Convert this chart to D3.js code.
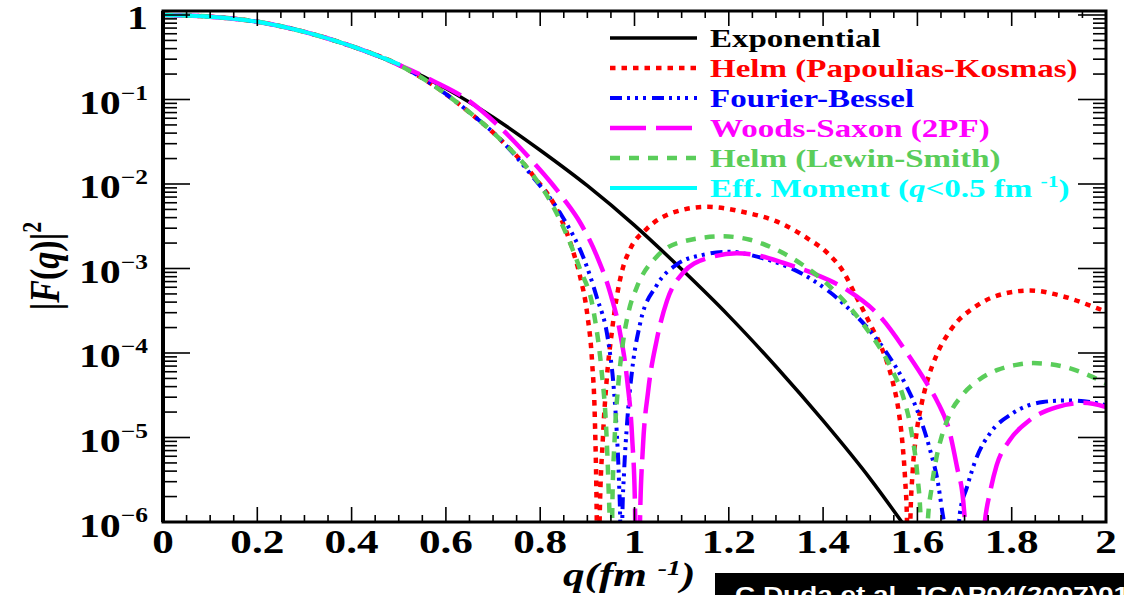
<!DOCTYPE html>
<html>
<head>
<meta charset="utf-8">
<script src="https://cdn.jsdelivr.net/npm/d3@7"></script>
<style>
  body { margin: 0; background: #fff; }
  svg { display: block; }
</style>
</head>
<body>
<script>
// |F(q)|^2 curves, as [q, F^2] pairs
const exponential = [[0,1],[0.1,0.955],[0.2,0.832],[0.3,0.631],[0.4,0.427],[0.5,0.257],[0.6,0.135],
  [0.7,0.0617],[0.8,0.0251],[0.9,9.55e-3],[1.0,3.24e-3],[1.1,9.77e-4],[1.2,2.75e-4],[1.3,6.92e-5],
  [1.4,1.58e-5],[1.5,3.24e-6],[1.567,1.0e-6]];

const helmPK = [[0,1],[0.1,0.955],[0.2,0.832],[0.3,0.631],[0.4,0.427],[0.5,0.257],[0.573,0.148],
  [0.645,0.0741],[0.715,0.0339],[0.785,0.0126],[0.842,4.17e-3],[0.87,1.58e-3],[0.884,8.32e-4],
  [0.9,2.82e-4],[0.91,7.94e-5],[0.916,1.58e-5],[0.92,1.0e-6],[0.923,1e-8],[0.926,1.0e-6],
  [0.933,1.0e-5],[0.941,4.79e-5],[0.952,1.78e-4],[0.962,4.47e-4],[0.975,1.0e-3],[0.99,1.66e-3],
  [1.026,2.95e-3],[1.076,4.47e-3],[1.153,5.37e-3],[1.238,4.57e-3],[1.3,3.63e-3],[1.366,2.29e-3],
  [1.41,1.51e-3],[1.442,9.33e-4],[1.47,4.68e-4],[1.5,2.19e-4],[1.527,1.05e-4],[1.548,4.47e-5],
  [1.56,2.09e-5],[1.568,8.91e-6],[1.574,3.16e-6],[1.578,1.0e-6],[1.581,1e-8],[1.585,1.0e-6],
  [1.59,3.98e-6],[1.598,1.12e-5],[1.609,2.51e-5],[1.62,4.47e-5],[1.641,9.55e-5],[1.669,1.82e-4],
  [1.726,3.63e-4],[1.782,5.01e-4],[1.839,5.5e-4],[1.909,4.68e-4],[1.981,3.39e-4],[2.0,3.09e-4]];

const fourierBessel = [[0,1],[0.1,0.955],[0.2,0.832],[0.3,0.631],[0.4,0.427],[0.5,0.257],[0.573,0.148],
  [0.645,0.0741],[0.715,0.0339],[0.785,0.012],[0.842,4.57e-3],[0.899,1.05e-3],[0.92,4.57e-4],
  [0.944,1.41e-4],[0.955,4.47e-5],[0.962,1.26e-5],[0.967,3.16e-6],[0.97,7.94e-7],[0.972,1e-8],
  [0.974,1.0e-6],[0.978,3.98e-6],[0.984,1.41e-5],[0.995,6.31e-5],[1.012,2.24e-4],[1.047,6.31e-4],
  [1.09,1.12e-3],[1.145,1.45e-3],[1.2,1.58e-3],[1.26,1.38e-3],[1.379,7.24e-4],[1.442,3.89e-4],
  [1.535,1.0e-4],[1.57,4.79e-5],[1.599,2.14e-5],[1.627,7.08e-6],[1.644,2.82e-6],[1.652,1.41e-6],
  [1.658,7.94e-7],[1.672,1e-8],[1.69,1.26e-6],[1.705,2.57e-6],[1.726,5.89e-6],[1.754,1.12e-5],
  [1.803,1.95e-5],[1.866,2.63e-5],[1.917,2.75e-5],[1.966,2.63e-5],[2.0,2.40e-5]];

const woodsSaxon = [[0,1],[0.1,0.955],[0.2,0.832],[0.3,0.631],[0.4,0.427],[0.5,0.257],[0.573,0.166],
  [0.645,0.1],[0.715,0.0468],[0.785,0.0182],[0.821,0.0107],[0.849,6.76e-3],[0.884,3.55e-3],
  [0.92,1.41e-3],[0.948,5.25e-4],[0.969,1.78e-4],[0.984,5.01e-5],[0.995,1.0e-5],[1.001,1.58e-6],
  [1.006,1e-8],[1.012,1.26e-6],[1.018,7.94e-6],[1.029,3.55e-5],[1.047,1.41e-4],[1.069,4.17e-4],
  [1.103,8.91e-4],[1.154,1.32e-3],[1.217,1.51e-3],[1.266,1.41e-3],[1.315,1.17e-3],[1.38,8.71e-4],
  [1.45,5.62e-4],[1.521,2.69e-4],[1.578,1.0e-4],[1.62,4.37e-5],[1.641,2.75e-5],[1.669,1.12e-5],
  [1.684,4.47e-6],[1.697,1.82e-6],[1.701,1.0e-6],[1.722,1e-8],[1.743,1.0e-6],[1.754,2.24e-6],
  [1.768,4.68e-6],[1.796,9.33e-6],[1.839,1.62e-5],[1.896,2.29e-5],[1.951,2.57e-5],[2.0,2.29e-5]];

const helmLS = [[0,1],[0.1,0.955],[0.2,0.832],[0.3,0.631],[0.4,0.427],[0.5,0.257],[0.573,0.148],
  [0.645,0.0741],[0.715,0.0339],[0.785,0.0126],[0.821,6.31e-3],[0.856,2.51e-3],[0.884,1.0e-3],
  [0.913,3.16e-4],[0.93,6.31e-5],[0.94,1.26e-5],[0.945,2.51e-6],[0.948,6.31e-7],[0.95,1e-8],
  [0.953,1.58e-6],[0.958,1.0e-5],[0.966,4.47e-5],[0.975,1.26e-4],[0.988,3.16e-4],[1.005,6.03e-4],
  [1.047,1.38e-3],[1.096,2.04e-3],[1.188,2.40e-3],[1.245,2.19e-3],[1.302,1.66e-3],[1.357,1.10e-3],
  [1.408,6.61e-4],[1.442,4.27e-4],[1.485,2.19e-4],[1.527,1.0e-4],[1.548,6.03e-5],[1.57,3.02e-5],
  [1.588,1.12e-5],[1.6,3.55e-6],[1.607,1.0e-6],[1.613,1e-8],[1.622,1.0e-6],[1.63,2.51e-6],
  [1.64,5.62e-6],[1.652,1.05e-5],[1.669,1.91e-5],[1.695,3.16e-5],[1.73,4.79e-5],[1.77,6.31e-5],
  [1.81,7.24e-5],[1.845,7.59e-5],[1.909,6.92e-5],[1.966,5.37e-5],[2.0,4.37e-5]];

const effMoment = [[0,1],[0.1,0.955],[0.2,0.832],[0.3,0.631],[0.4,0.427],[0.503,0.257]];

const xTickVals = [0, 0.2, 0.4, 0.6, 0.8, 1, 1.2, 1.4, 1.6, 1.8, 2];
const xTickLabels = ['0', '0.2', '0.4', '0.6', '0.8', '1', '1.2', '1.4', '1.6', '1.8', '2'];
const yTickVals = [1, 1e-1, 1e-2, 1e-3, 1e-4, 1e-5, 1e-6];
const yTickExps = ['', '\u22121', '\u22122', '\u22123', '\u22124', '\u22125', '\u22126'];

const series = [
  { data: exponential, color: '#000000', width: 3.5, dash: null },
  { data: helmPK, color: '#ff0000', width: 4.5, dash: '5.5,6' },
  { data: fourierBessel, color: '#0000ff', width: 4, dash: '12,5,3,5,3,5,3,6' },
  { data: woodsSaxon, color: '#ff00ff', width: 4.5, dash: '36,10' },
  { data: helmLS, color: '#5acd5a', width: 4.5, dash: '10,9' },
  { data: effMoment, color: '#00ffff', width: 4, dash: null }
];

const SERIF = '"Liberation Serif", "Times New Roman", serif';
const SX = 1.27; // the picture is stretched sideways

const svg = d3.select('body').append('svg')
  .attr('width', 1124)
  .attr('height', 595);

const x = d3.scaleLinear().domain([0, 2]).range([163, 1106]);
const y = d3.scaleLog().domain([1e-6, 1.115]).range([522, 11]);
const [x0, x1] = x.range();
const [yb, yt] = y.range();

svg.append('clipPath').attr('id', 'plot')
  .append('rect')
  .attr('x', x0).attr('y', yt)
  .attr('width', x1 - x0).attr('height', yb - yt);

// curves
const line = d3.line()
  .x(d => x(d[0]))
  .y(d => y(d[1]))
  .curve(d3.curveMonotoneX);

svg.append('g').attr('clip-path', 'url(#plot)')
  .selectAll('path')
  .data(series)
  .enter().append('path')
  .attr('d', s => line(s.data))
  .attr('fill', 'none')
  .attr('stroke', s => s.color)
  .attr('stroke-width', s => s.width)
  .attr('stroke-dasharray', s => s.dash);

// ticks
const ticks = svg.append('g').attr('stroke', '#000').attr('stroke-width', 1.6);
d3.range(0, 41).forEach(i => {
  const q = i * 0.05;
  const len = i % 4 === 0 ? 15 : 7;
  ticks.append('line').attr('x1', x(q)).attr('x2', x(q)).attr('y1', yb).attr('y2', yb - len);
  ticks.append('line').attr('x1', x(q)).attr('x2', x(q)).attr('y1', yt).attr('y2', yt + len);
});
y.ticks().filter(v => v <= 1).forEach(v => {
  const major = yTickVals.includes(v);
  ticks.append('line').attr('x1', x0).attr('x2', x0 + (major ? 27 : 14)).attr('y1', y(v)).attr('y2', y(v));
  ticks.append('line').attr('x1', x1).attr('x2', x1 - (major ? 28 : 13)).attr('y1', y(v)).attr('y2', y(v));
});

// frame
svg.append('rect')
  .attr('x', x0).attr('y', yt)
  .attr('width', x1 - x0).attr('height', yb - yt)
  .attr('fill', 'none').attr('stroke', '#000').attr('stroke-width', 3);
svg.append('line')
  .attr('x1', x0).attr('x2', x0).attr('y1', yt).attr('y2', yb)
  .attr('stroke', '#000').attr('stroke-width', 4);

// x tick labels
xTickVals.forEach((v, i) => {
  svg.append('text')
    .attr('transform', `translate(${x(v)},553) scale(${SX},1)`)
    .attr('text-anchor', 'middle')
    .attr('font-family', SERIF).attr('font-weight', 'bold').attr('font-size', 34)
    .text(xTickLabels[i]);
});

// y tick labels
yTickVals.forEach((v, i) => {
  const t = svg.append('text')
    .attr('transform', `translate(148,${y(v) + 14.5}) scale(${SX},1)`)
    .attr('text-anchor', 'end')
    .attr('font-family', SERIF).attr('font-weight', 'bold').attr('font-size', 33);
  if (v === 1) {
    t.text('1');
  } else {
    t.append('tspan').text('10');
    t.append('tspan').attr('dy', -14.5).attr('font-size', 20).text(yTickExps[i]);
  }
});

// axis titles
const xt = svg.append('text')
  .attr('transform', `translate(563,586) scale(${SX},1)`)
  .attr('font-family', SERIF).attr('font-weight', 'bold').attr('font-style', 'italic')
  .attr('font-size', 34);
xt.append('tspan').text('q(fm ');
xt.append('tspan').attr('dy', -11).attr('font-size', 22).text('-1');
xt.append('tspan').attr('dy', 11).text(')');

const yt2 = svg.append('text')
  .attr('transform', `translate(59,266) scale(${SX},1) rotate(-90)`)
  .attr('text-anchor', 'middle')
  .attr('font-family', SERIF).attr('font-weight', 'bold').attr('font-size', 34);
yt2.append('tspan').text('|');
yt2.append('tspan').attr('font-style', 'italic').text('F');
yt2.append('tspan').text('(');
yt2.append('tspan').attr('font-style', 'italic').text('q');
yt2.append('tspan').text(')|');
yt2.append('tspan').attr('dy', -14).attr('font-size', 22).text('2');

// legend
const legendLabels = ['Exponential', 'Helm (Papoulias-Kosmas)', 'Fourier-Bessel',
  'Woods-Saxon (2PF)', 'Helm (Lewin-Smith)', null];
series.forEach((s, i) => {
  const base = 47 + i * 30;
  svg.append('line')
    .attr('x1', 610).attr('x2', 697)
    .attr('y1', base - 9).attr('y2', base - 9)
    .attr('stroke', s.color).attr('stroke-width', s.width)
    .attr('stroke-dasharray', s.dash);
  const t = svg.append('text')
    .attr('transform', `translate(710,${base}) scale(${SX},1)`)
    .attr('font-family', SERIF).attr('font-weight', 'bold').attr('font-size', 26)
    .attr('fill', s.color);
  if (legendLabels[i]) {
    t.text(legendLabels[i]);
  } else {
    t.append('tspan').text('Eff. Moment (');
    t.append('tspan').attr('font-style', 'italic').text('q');
    t.append('tspan').text('<0.5 fm ');
    t.append('tspan').attr('dy', -10).attr('font-size', 17).text('-1');
    t.append('tspan').attr('dy', 10).text(')');
  }
});

// citation box
svg.append('rect')
  .attr('x', 715).attr('y', 573).attr('width', 409).attr('height', 22)
  .attr('fill', '#000');
svg.append('text')
  .attr('transform', `translate(735,602) scale(${SX},1)`)
  .attr('font-family', '"Liberation Sans", Arial, sans-serif')
  .attr('font-weight', 'bold').attr('font-size', 22)
  .attr('fill', '#fff')
  .text('C.Duda et al. JCAP04(2007)012');
</script>
</body>
</html>
